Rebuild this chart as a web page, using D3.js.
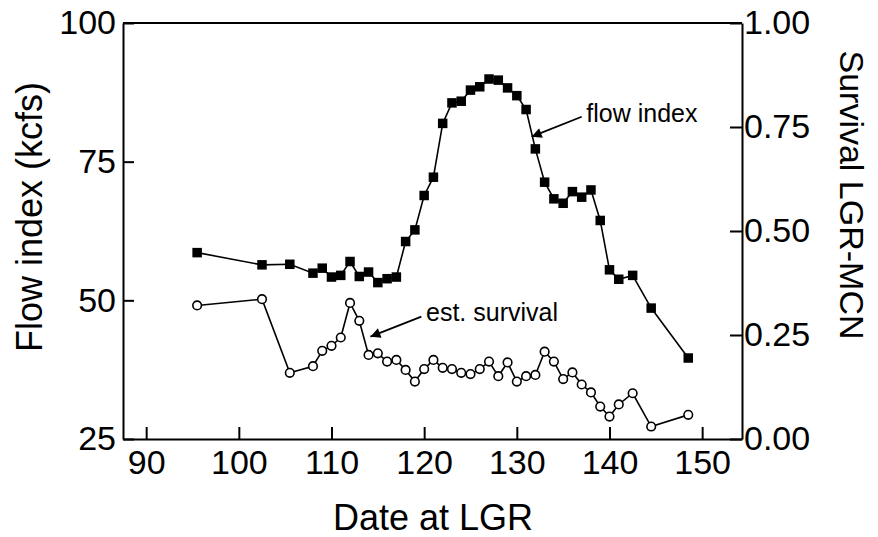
<!DOCTYPE html>
<html>
<head>
<meta charset="utf-8">
<script src="https://cdn.jsdelivr.net/npm/d3@7"></script>
<style>
  body { margin: 0; background: #fff; }
  text { font-family: "Liberation Sans", Arial, sans-serif; fill: #000; }
</style>
</head>
<body>
<div id="chart"></div>
<script>
// Data
var dates = [95.5, 102.5, 105.5, 108, 109, 110, 111, 112, 113, 114, 115, 116, 117, 118, 119, 120, 121, 122, 123, 124,
  125, 126, 127, 128, 129, 130, 131, 132, 133, 134, 135, 136, 137, 138, 139, 140, 141, 142.5, 144.5, 148.5];
var flowIndex = [58.6, 56.4, 56.5, 54.9, 55.8, 54.2, 54.5, 57.0, 54.3, 55.1, 53.2, 53.9, 54.2, 60.6, 62.7, 68.9, 72.2, 81.9, 85.6, 85.9,
  87.9, 88.5, 89.9, 89.7, 88.3, 86.9, 84.4, 77.3, 71.3, 68.3, 67.5, 69.6, 68.6, 69.9, 64.4, 55.5, 53.8, 54.5, 48.6, 39.6];
var survival = [0.321, 0.336, 0.159, 0.175, 0.212, 0.224, 0.244, 0.327, 0.284, 0.202, 0.206, 0.186, 0.190, 0.166, 0.138, 0.168, 0.190, 0.171, 0.168, 0.159,
  0.156, 0.168, 0.186, 0.151, 0.184, 0.138, 0.151, 0.154, 0.210, 0.186, 0.144, 0.160, 0.131, 0.112, 0.078, 0.054, 0.083, 0.110, 0.030, 0.058];

var xTicks = [90, 100, 110, 120, 130, 140, 150];
var flowTicks = [25, 50, 75, 100];
var survTicks = [0, 0.25, 0.5, 0.75, 1];

var svgWidth = 878;
var svgHeight = 537;

var chartMargin = { top: 23, right: 136, bottom: 98, left: 123 };
var chartWidth = svgWidth - chartMargin.left - chartMargin.right;
var chartHeight = svgHeight - chartMargin.top - chartMargin.bottom;

var svg = d3.select("#chart")
  .append("svg")
  .attr("width", svgWidth)
  .attr("height", svgHeight);

var chartGroup = svg.append("g")
  .attr("transform", `translate(${chartMargin.left}, ${chartMargin.top})`);

// scales
var xScale = d3.scaleLinear().domain([87.5, 154.3]).range([0, chartWidth]);
var yFlow = d3.scaleLinear().domain([25, 100]).range([chartHeight, 0]);
var ySurv = d3.scaleLinear().domain([0, 1]).range([chartHeight, 0]);

// axes, ticks point inward
var bottomAxis = d3.axisBottom(xScale).tickValues(xTicks).tickSizeInner(-12).tickSizeOuter(0).tickPadding(11);
var leftAxis = d3.axisLeft(yFlow).tickValues(flowTicks).tickSizeInner(-11).tickSizeOuter(0).tickPadding(7);
var rightAxis = d3.axisRight(ySurv).tickValues(survTicks).tickFormat(d3.format(".2f")).tickSizeInner(-12).tickSizeOuter(0).tickPadding(2);

var xAxis = chartGroup.append("g")
  .attr("transform", `translate(0, ${chartHeight})`)
  .call(bottomAxis);
var yAxis = chartGroup.append("g").call(leftAxis);
var y2Axis = chartGroup.append("g")
  .attr("transform", `translate(${chartWidth}, 0)`)
  .call(rightAxis);

[xAxis, yAxis, y2Axis].forEach(function(ax) {
  ax.selectAll("path, line").attr("stroke", "#000").attr("stroke-width", 2);
  ax.selectAll("text").style("font-size", "34px").style("font-family", "'Liberation Sans', Arial, sans-serif").attr("fill", "#000");
});
xAxis.selectAll("text").attr("dy", "0.71em");

// top border
chartGroup.append("line")
  .attr("x1", 0).attr("x2", chartWidth)
  .attr("y1", 0).attr("y2", 0)
  .attr("stroke", "#000").attr("stroke-width", 2);

// lines
var flowLine = d3.line()
  .x((d, i) => xScale(dates[i]))
  .y(d => yFlow(d));
var survLine = d3.line()
  .x((d, i) => xScale(dates[i]))
  .y(d => ySurv(d));

chartGroup.append("path")
  .datum(flowIndex)
  .attr("d", flowLine)
  .attr("fill", "none").attr("stroke", "#000").attr("stroke-width", 1.6);

chartGroup.append("path")
  .datum(survival)
  .attr("d", survLine)
  .attr("fill", "none").attr("stroke", "#000").attr("stroke-width", 1.6);

// markers
var sq = 9.5;
chartGroup.selectAll(".flowpt")
  .data(flowIndex)
  .enter()
  .append("rect")
  .attr("class", "flowpt")
  .attr("x", (d, i) => xScale(dates[i]) - sq / 2)
  .attr("y", d => yFlow(d) - sq / 2)
  .attr("width", sq).attr("height", sq)
  .attr("fill", "#000");

chartGroup.selectAll(".survpt")
  .data(survival)
  .enter()
  .append("circle")
  .attr("class", "survpt")
  .attr("cx", (d, i) => xScale(dates[i]))
  .attr("cy", d => ySurv(d))
  .attr("r", 4.3)
  .attr("fill", "#fff").attr("stroke", "#000").attr("stroke-width", 1.6);

// arrowhead
svg.append("defs").append("marker")
  .attr("id", "arrow")
  .attr("viewBox", "0 0 10 10")
  .attr("refX", 10).attr("refY", 5)
  .attr("markerUnits", "userSpaceOnUse")
  .attr("markerWidth", 15).attr("markerHeight", 10)
  .attr("orient", "auto")
  .append("path")
  .attr("d", "M0,0 L10,5 L0,10 Z")
  .attr("fill", "#000");

// annotations (data units)
var notes = [
  { label: "flow index", tx: 137.5, ty: yFlow(82.2), x1: 137.0, y1: yFlow(83.1), x2: 131.6, y2: yFlow(79.5) },
  { label: "est. survival", tx: 120.2, ty: ySurv(0.284), x1: 119.7, y1: ySurv(0.294), x2: 114.2, y2: ySurv(0.246) }
];

notes.forEach(function(n) {
  chartGroup.append("line")
    .attr("x1", xScale(n.x1)).attr("y1", n.y1)
    .attr("x2", xScale(n.x2)).attr("y2", n.y2)
    .attr("stroke", "#000").attr("stroke-width", 1.8)
    .attr("marker-end", "url(#arrow)");
  chartGroup.append("text")
    .attr("x", xScale(n.tx)).attr("y", n.ty)
    .style("font-size", "25px")
    .text(n.label);
});

// axis titles
svg.append("text")
  .attr("transform", "translate(433, 530)")
  .attr("text-anchor", "middle")
  .style("font-size", "36px")
  .text("Date at LGR");

svg.append("text")
  .attr("transform", "translate(42, 217) rotate(-90)")
  .attr("text-anchor", "middle")
  .style("font-size", "36px")
  .text("Flow index (kcfs)");

svg.append("text")
  .attr("transform", "translate(840, 195) rotate(90)")
  .attr("text-anchor", "middle")
  .style("font-size", "34px")
  .text("Survival LGR-MCN");
</script>
</body>
</html>
